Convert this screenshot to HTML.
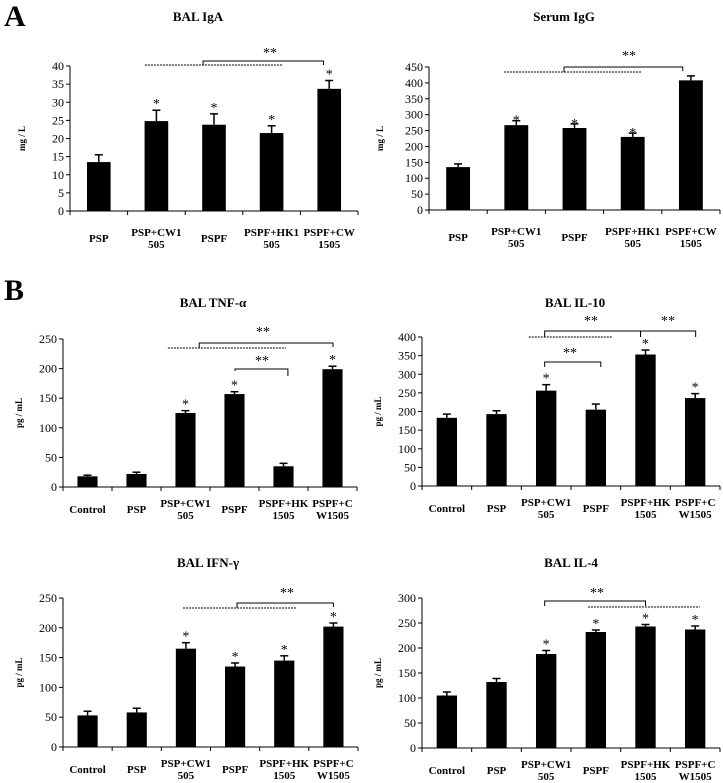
<!DOCTYPE html>
<html><head><meta charset="utf-8">
<style>
html,body{margin:0;padding:0;background:#fff;}
svg{display:block;font-family:"Liberation Serif",serif;}
</style></head>
<body>
<svg id="fig" width="723" height="783" viewBox="0 0 723 783" xmlns="http://www.w3.org/2000/svg">
<text x="4" y="26" font-size="30" font-weight="bold">A</text>
<text x="4" y="300" font-size="30" font-weight="bold">B</text>
</svg>
<script>
const catsA = [["PSP"],["PSP+CW1","505"],["PSPF"],["PSPF+HK1","505"],["PSPF+CW","1505"]];
const catsB = [["Control"],["PSP"],["PSP+CW1","505"],["PSPF"],["PSPF+HK","1505"],["PSPF+C","W1505"]];

const igaVals = [13.5, 24.8, 23.8, 21.5, 33.7];
const igaErr  = [2.0, 3.0, 3.0, 2.0, 2.3];
const igaStar = [0,1,1,1,1];
const igaTicks = [0,5,10,15,20,25,30,35,40];

const iggVals = [135, 267, 258, 230, 408];
const iggErr  = [10, 14, 13, 12, 14];
const iggStar = [0,1,1,1,0];
const iggTicks = [0,50,100,150,200,250,300,350,400,450];

const tnfVals = [18, 22, 125, 157, 35, 199];
const tnfErr  = [2, 3, 4, 4, 5, 5];
const tnfStar = [0,0,1,1,0,1];
const tnfTicks = [0,50,100,150,200,250];

const il10Vals = [183, 193, 256, 205, 353, 236];
const il10Err  = [10, 9, 16, 15, 12, 12];
const il10Star = [0,0,1,0,1,1];
const il10Ticks = [0,50,100,150,200,250,300,350,400];

const ifnVals = [53, 58, 165, 135, 145, 202];
const ifnErr  = [7, 7, 10, 6, 8, 6];
const ifnStar = [0,0,1,1,1,1];
const ifnTicks = [0,50,100,150,200,250];

const il4Vals = [105, 132, 188, 232, 243, 237];
const il4Err  = [7, 7, 7, 4, 4, 7];
const il4Star = [0,0,1,1,1,1];
const il4Ticks = [0,50,100,150,200,250,300];

const NS = "http://www.w3.org/2000/svg";
const svg = document.getElementById('fig');
function mk(tag, attrs, parent){
  const e = document.createElementNS(NS, tag);
  for (const k in attrs) e.setAttribute(k, attrs[k]);
  (parent||svg).appendChild(e);
  return e;
}

function panel(p){
  const g = mk('g', {});
  
  
  const n = p.cats.length;
  const slot = (p.x1 - p.x0)/n;
  const xc = i => p.x0 + slot*(i+0.5);
  const ymax = p.ticks[p.ticks.length-1];
  const y = v => p.yb - (v/ymax)*(p.yb - p.yt);

  const t = mk('text', {x:p.tx, y:p.ty, 'font-size':13, 'font-weight':'bold', 'text-anchor':'middle'}, g);
  t.textContent = p.title;
  
  

  const yl = mk('text', {x:0, y:0, 'font-size':9, 'font-weight':'bold', 'text-anchor':'middle',
    transform:`translate(${p.ylx},${(p.yt+p.yb)/2}) rotate(-90)`}, g);
  yl.textContent = p.ylabel;
  
  

  const ya = mk('line', {x1:p.x0, y1:p.yt, x2:p.x0, y2:p.yb, stroke:'#000', 'stroke-width':1}, g);
  
  
  p.ticks.forEach(v=>{
    mk('line', {x1:p.x0-4, y1:y(v), x2:p.x0, y2:y(v), stroke:'#000'}, g);
    const tl = mk('text', {x:p.x0-6, y:y(v)+4, 'font-size':12, 'text-anchor':'end'}, g);
    tl.textContent = v;
    
    
  });

  const xa = mk('line', {x1:p.x0, y1:p.yb, x2:p.x1, y2:p.yb, stroke:'#000', 'stroke-width':1}, g);
  
  
  for (let i=0;i<=n;i++){
    const xx = p.x0 + slot*i;
    mk('line', {x1:xx, y1:p.yb, x2:xx, y2:p.yb+4, stroke:'#000'}, g);
  }

  const bw = slot*0.41;
  p.vals.forEach((v,i)=>{
    const b = mk('rect', {x:xc(i)-bw/2, y:y(v), width:bw, height:p.yb-y(v), fill:'#000'}, g);
    
    
    const et = y(v + p.err[i]);
    mk('line', {x1:xc(i), y1:y(v), x2:xc(i), y2:et, stroke:'#000', 'stroke-width':1.5}, g);
    mk('line', {x1:xc(i)-4, y1:et, x2:xc(i)+4, y2:et, stroke:'#000', 'stroke-width':1.5}, g);
    if (p.star[i]){
      const s = mk('text', {x:xc(i), y:et+p.so, 'font-size':14, 'text-anchor':'middle'}, g);
      s.textContent = '*';
      
      
    }
    const lines = p.cats[i];
    lines.forEach((ln,k)=>{
      const yy = lines.length===1 ? p.yb+p.lab+6 : p.yb+p.lab+k*12;
      const ct = mk('text', {x:xc(i), y:yy, 'font-size':11, 'font-weight':'bold', 'text-anchor':'middle'}, g);
      ct.textContent = ln;
      
      
    });
  });

  (p.dashed||[]).forEach(d=>{
    const l = mk('line', {x1:xc(d[0]), y1:d[2], x2:xc(d[1]), y2:d[2], stroke:'#000', 'stroke-width':1, 'stroke-dasharray':'2,1'}, g);
    
    
  });
  (p.brackets||[]).forEach(b=>{
    const [a, c, top, ly, ry, sx, sy] = b;
    const pl = mk('polyline', {points:`${xc(a)},${ly} ${xc(a)},${top} ${xc(c)},${top} ${xc(c)},${ry}`, fill:'none', stroke:'#000', 'stroke-width':1}, g);
    
    
    const s = mk('text', {x:sx, y:sy, 'font-size':14, 'text-anchor':'middle'}, g);
    s.textContent = '**';
    
    
  });
}

panel({name:'bal-iga-chart', title:'BAL IgA', tx:198, ty:21, ylabel:'mg / L', ylx:25, so:-2,
  x0:70, x1:358, yt:66, yb:211, lab:25, ticks:igaTicks, vals:igaVals, err:igaErr, star:igaStar, cats:catsA,
  dashed:[[0.80,3.2,65]], brackets:[[1.81,3.9,61,65,65,270,57]]});
panel({name:'serum-igg-chart', title:'Serum IgG', tx:564, ty:21, ylabel:'mg / L', ylx:383, so:4,
  x0:429, x1:720, yt:67, yb:210, lab:25, ticks:iggTicks, vals:iggVals, err:iggErr, star:iggStar, cats:catsA,
  dashed:[[0.79,3.16,72]], brackets:[[1.82,3.86,67,72,71,629,60]]});
panel({name:'bal-tnf-alpha-chart', title:'BAL TNF-α', tx:213, ty:307, ylabel:'pg / mL', ylx:22, so:-2,
  x0:63, x1:357, yt:339, yb:487, lab:20, ticks:tnfTicks, vals:tnfVals, err:tnfErr, star:tnfStar, cats:catsB,
  dashed:[[1.64,4.05,348]], brackets:[[2.28,5.01,343,348,347,263,336],[3.01,4.09,369,371,376,262,365]]});
panel({name:'bal-il10-chart', title:'BAL IL-10', tx:575, ty:307, ylabel:'pg / mL', ylx:381, so:-2,
  x0:422, x1:720, yt:337, yb:486, lab:20, ticks:il10Ticks, vals:il10Vals, err:il10Err, star:il10Star, cats:catsB,
  dashed:[[1.65,3.32,337]], brackets:[[1.97,3.9,331,337,337,591,325],[3.9,5.01,331,337,337,668,325],[1.97,3.1,362,367,367,570,357]]});
panel({name:'bal-ifn-gamma-chart', title:'BAL IFN-γ', tx:208, ty:567, ylabel:'pg / mL', ylx:22, so:-2,
  x0:63, x1:358, yt:598, yb:747, lab:20, ticks:ifnTicks, vals:ifnVals, err:ifnErr, star:ifnStar, cats:catsB,
  dashed:[[1.94,4.24,608]], brackets:[[3.04,5.0,603,608,607,287,597]]});
panel({name:'bal-il4-chart', title:'BAL IL-4', tx:571, ty:567, ylabel:'pg / mL', ylx:381, so:-2,
  x0:422, x1:720, yt:598, yb:748, lab:20, ticks:il4Ticks, vals:il4Vals, err:il4Err, star:il4Star, cats:catsB,
  dashed:[[2.84,5.09,607]], brackets:[[1.97,4.0,601,606,606,597,597]]});
</script>
</body></html>
